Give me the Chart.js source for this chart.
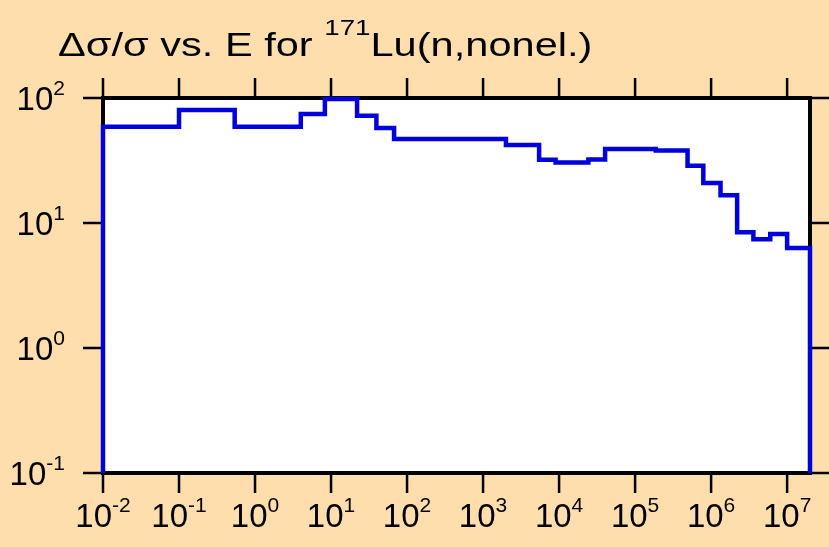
<!DOCTYPE html>
<html>
<head>
<meta charset="utf-8">
<script src="https://cdn.jsdelivr.net/npm/chart.js@4.4.1/dist/chart.umd.min.js"></script>
<style>
  html, body { margin: 0; padding: 0; background: #ffdead; }
  canvas { display: block; }
</style>
</head>
<body>
<canvas id="chart" width="829" height="547"></canvas>
<script>
// group boundaries in eV and relative uncertainty (%) per group
const energyEdges = [0.01, 0.1, 0.54, 4.0, 8.3, 22, 39.5, 67.5, 2000, 5460, 9000, 24300, 40300,
                     187000, 4.9e5, 7.9e5, 1.33e6, 2.2e6, 3.6e6, 6.0e6, 1.0e7, 2.0e7];
const relUnc      = [59, 80, 59, 74.5, 98, 72, 57.5, 47, 42, 32, 30.5, 32.2, 39,
                     38, 28.7, 20.9, 16.7, 8.45, 7.43, 8.15, 6.3];
const floorValue  = 0.1;

const xTickExps = [-2, -1, 0, 1, 2, 3, 4, 5, 6, 7];
const yTickExps = [-1, 0, 1, 2];

const titleMain = "\u0394\u03c3/\u03c3 vs. E for ";
const titleSup  = "171";
const titleRest = "Lu(n,nonel.)";

const FONT = '"Liberation Sans", Arial, Helvetica, sans-serif';

// points for a step-before line: each group starts at its lower edge
const points = [{ x: energyEdges[0], y: floorValue }];
relUnc.forEach((v, i) => points.push({ x: energyEdges[i], y: v }));
points.push({ x: energyEdges[energyEdges.length - 1], y: floorValue });

function drawPow(ctx, exp, x, y, align) {
  // "10" with raised exponent; x is centre (align 'center') or right edge (align 'right')
  ctx.font = "33px " + FONT;
  const wBase = ctx.measureText("10").width;
  ctx.font = "21px " + FONT;
  const e = String(exp);
  const wExp = ctx.measureText(e).width;
  const total = wBase + wExp;
  const x0 = align === "center" ? x - total / 2 : x - total;
  ctx.font = "33px " + FONT;
  ctx.fillText("10", x0, y);
  ctx.font = "21px " + FONT;
  ctx.fillText(e, x0 + wBase, y - 15);
}

const framePlugin = {
  id: "frame",
  beforeDraw(chart) {
    const { ctx, chartArea: a } = chart;
    ctx.save();
    ctx.fillStyle = "#ffdead";
    ctx.fillRect(0, 0, chart.width, chart.height);
    ctx.fillStyle = "#ffffff";
    ctx.fillRect(a.left, a.top, a.right - a.left, a.bottom - a.top);
    ctx.restore();
  },
  beforeDatasetsDraw(chart) {
    const { ctx, chartArea: a, scales } = chart;
    ctx.save();
    ctx.strokeStyle = "#000";
    ctx.lineWidth = 2.5;
    ctx.beginPath();
    xTickExps.forEach(e => {
      const px = scales.x.getPixelForValue(10 ** e);
      ctx.moveTo(px, a.bottom); ctx.lineTo(px, a.bottom + 20);
      ctx.moveTo(px, a.top);    ctx.lineTo(px, a.top - 20);
    });
    yTickExps.forEach(e => {
      const py = scales.y.getPixelForValue(10 ** e);
      ctx.moveTo(a.left, py);  ctx.lineTo(a.left - 20, py);
      ctx.moveTo(a.right, py); ctx.lineTo(a.right + 20, py);
    });
    ctx.stroke();
    ctx.lineWidth = 4;
    ctx.strokeRect(a.left, a.top, a.right - a.left, a.bottom - a.top);

    ctx.fillStyle = "#000";
    ctx.textAlign = "left";
    ctx.textBaseline = "alphabetic";
    xTickExps.forEach(e => drawPow(ctx, e, scales.x.getPixelForValue(10 ** e), 527, "center"));
    yTickExps.forEach(e => drawPow(ctx, e, 65, scales.y.getPixelForValue(10 ** e) + 12, "right"));

    // title, slightly stretched horizontally as in the original
    const sx = 1.26;
    ctx.translate(58, 56);
    ctx.scale(sx, 1);
    ctx.font = "33px " + FONT;
    ctx.fillText(titleMain, 0, 0);
    let w = ctx.measureText(titleMain).width;
    ctx.font = "22px " + FONT;
    ctx.fillText(titleSup, w, -21);
    w += ctx.measureText(titleSup).width;
    ctx.font = "33px " + FONT;
    ctx.fillText(titleRest, w, 0);
    ctx.restore();
  }
};

new Chart(document.getElementById("chart"), {
  type: "line",
  data: {
    datasets: [{
      data: points,
      borderColor: "#0000dd",
      borderWidth: 4.5,
      stepped: true,
      pointRadius: 0,
      fill: false,
      clip: false,
      borderJoinStyle: "miter"
    }]
  },
  options: {
    responsive: false,
    animation: false,
    devicePixelRatio: 1,
    layout: { padding: { top: 98, right: 19, left: 0, bottom: 0 } },
    plugins: { legend: { display: false }, tooltip: { enabled: false }, title: { display: false } },
    scales: {
      x: {
        type: "logarithmic", min: 0.01, max: 2e7,
        grid: { display: false }, border: { display: false }, ticks: { display: false },
        afterBuildTicks: s => { s.ticks = xTickExps.map(e => ({ value: 10 ** e })); },
        afterFit: s => { s.height = 74; }
      },
      y: {
        type: "logarithmic", min: 0.1, max: 100,
        grid: { display: false }, border: { display: false }, ticks: { display: false },
        afterBuildTicks: s => { s.ticks = yTickExps.map(e => ({ value: 10 ** e })); },
        afterFit: s => { s.width = 103; }
      }
    }
  },
  plugins: [framePlugin]
});
</script>
</body>
</html>
